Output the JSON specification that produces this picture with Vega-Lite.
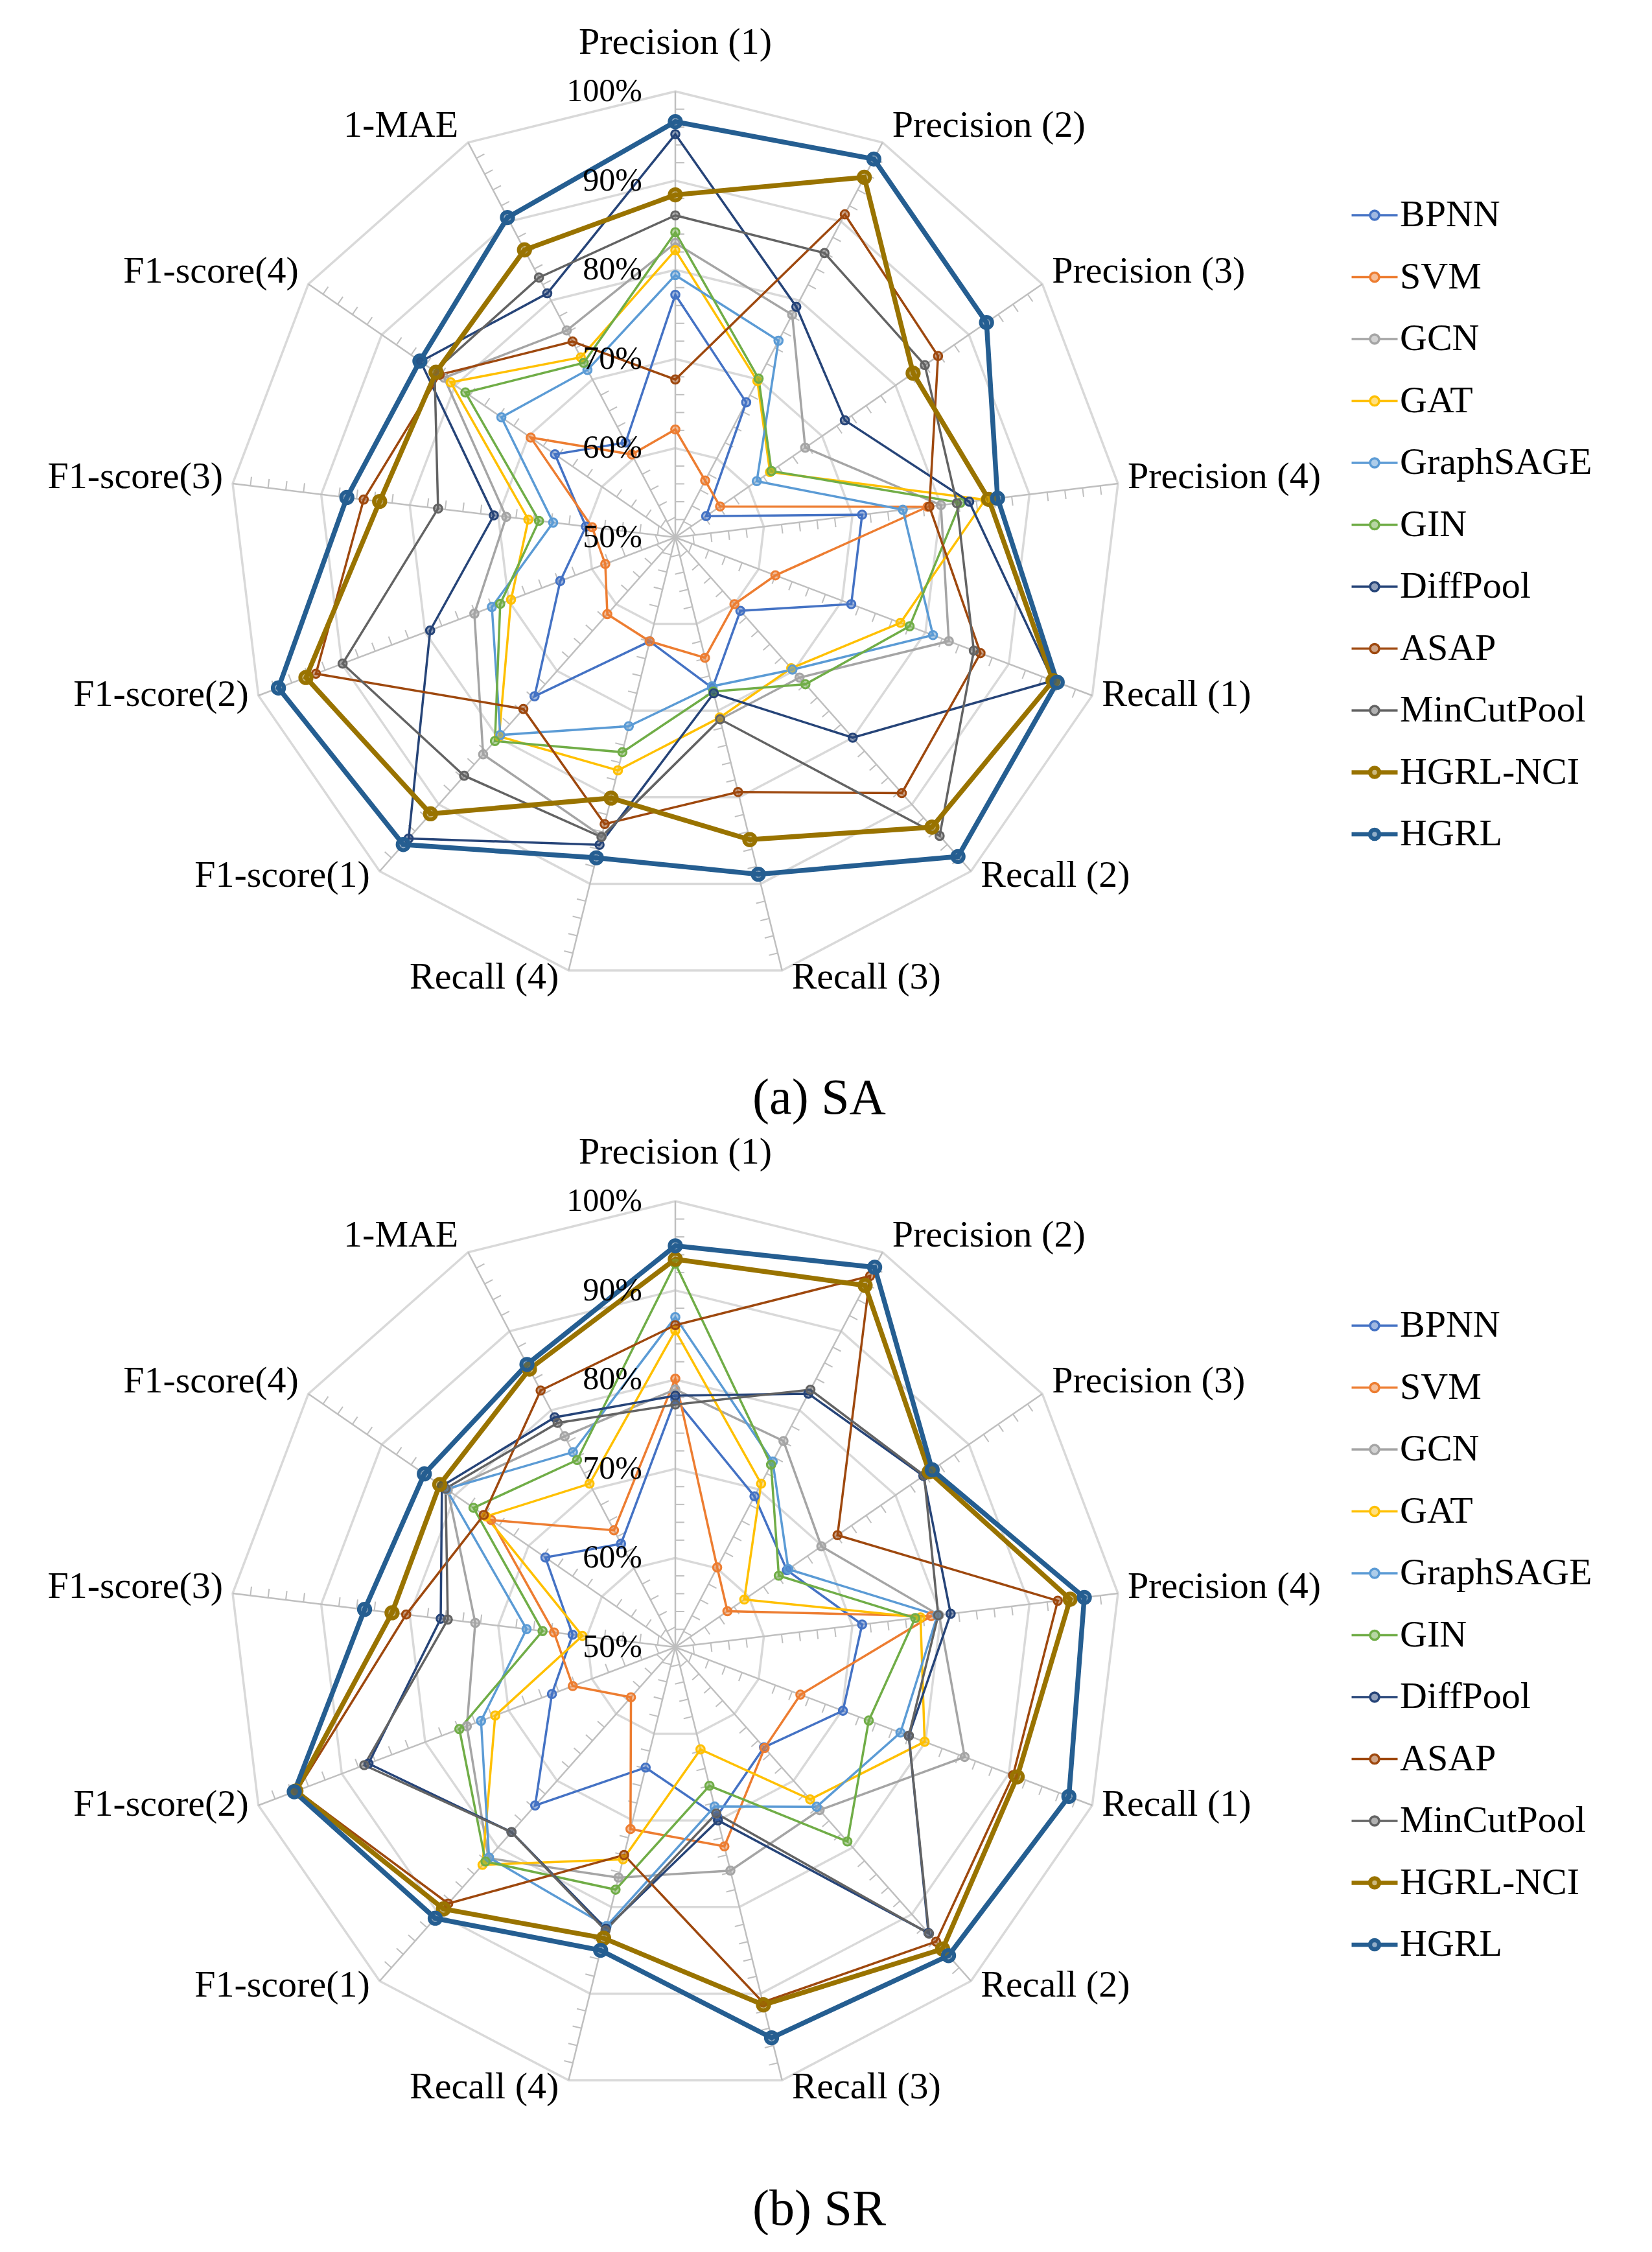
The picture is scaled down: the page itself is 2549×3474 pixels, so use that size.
{
  "$schema": "https://vega.github.io/schema/vega-lite/v6.json",
  "padding": 0,
  "spacing": 0,
  "background": "white",
  "config": {"view": {"stroke": null}, "font": "Liberation Serif"},
  "datasets": {
    "scores": [
      {"panel":"SA","model":"BPNN","P1":77.2,"P2":67.1,"P3":54.2,"P4":71.1,"R1":71.1,"R2":61.0,"R3":67.4,"R4":62.0,"F1":73.8,"F2":63.8,"F3":60.1,"F4":66.4,"MAE":62.0},
      {"panel":"SA","model":"SVM","P1":62.1,"P2":57.2,"P3":56.1,"P4":78.5,"R1":62.0,"R2":60.0,"R3":63.9,"R4":62.0,"F1":61.5,"F2":58.4,"F3":59.4,"F4":69.7,"MAE":60.5},
      {"panel":"SA","model":"GCN","P1":83.0,"P2":78.2,"P3":67.7,"P4":80.0,"R1":82.8,"R2":71.0,"R3":71.0,"R4":84.5,"F1":82.5,"F2":74.1,"F3":69.1,"F4":81.5,"MAE":76.2},
      {"panel":"SA","model":"GAT","P1":82.2,"P2":69.8,"P3":62.9,"P4":85.0,"R1":77.0,"R2":69.6,"R3":70.8,"R4":76.9,"F1":79.8,"F2":69.7,"F3":66.6,"F4":80.6,"MAE":72.8},
      {"panel":"SA","model":"GraphSAGE","P1":79.4,"P2":74.9,"P3":61.1,"P4":75.7,"R1":80.9,"R2":69.8,"R3":67.2,"R4":71.8,"F1":79.6,"F2":72.0,"F3":63.8,"F4":73.7,"MAE":71.2},
      {"panel":"SA","model":"GIN","P1":84.2,"P2":70.1,"P3":63.1,"P4":82.2,"R1":78.1,"R2":72.0,"R3":67.8,"R4":74.8,"F1":80.5,"F2":71.0,"F3":65.4,"F4":78.6,"MAE":72.1},
      {"panel":"SA","model":"DiffPool","P1":95.2,"P2":79.2,"P3":73.1,"P4":83.2,"R1":95.3,"R2":80.0,"R3":68.0,"R4":85.5,"F1":95.1,"F2":79.4,"F3":70.5,"F4":84.7,"MAE":80.9},
      {"panel":"SA","model":"ASAP","P1":67.7,"P2":90.9,"P3":85.8,"P4":78.7,"R1":86.6,"R2":88.3,"R3":79.4,"R4":83.1,"F1":75.7,"F2":93.1,"F3":85.2,"F4":82.1,"MAE":74.8},
      {"panel":"SA","model":"MinCutPool","P1":86.1,"P2":86.0,"P3":84.0,"P4":81.8,"R1":85.8,"R2":94.7,"R3":71.0,"R4":84.6,"F1":85.7,"F2":89.9,"F3":76.8,"F4":82.8,"MAE":82.9},
      {"panel":"SA","model":"HGRL-NCI","P1":88.4,"P2":95.6,"P3":82.4,"P4":85.4,"R1":95.3,"R2":93.4,"R3":84.9,"R4":80.1,"F1":91.4,"F2":94.3,"F3":83.4,"F4":82.6,"MAE":86.4},
      {"panel":"SA","model":"HGRL","P1":96.6,"P2":97.9,"P3":92.4,"P4":86.4,"R1":95.8,"R2":97.8,"R3":88.9,"R4":87.0,"F1":96.0,"F2":97.6,"F3":87.1,"F4":84.8,"MAE":90.5},
      {"panel":"SR","model":"BPNN","P1":77.8,"P2":69.1,"P3":65.2,"P4":71.1,"R1":70.1,"R2":65.0,"R3":69.5,"R4":63.9,"F1":73.7,"F2":64.8,"F3":61.6,"F4":67.7,"MAE":63.1},
      {"panel":"SR","model":"SVM","P1":80.1,"P2":60.1,"P3":57.1,"P4":78.9,"R1":65.0,"R2":65.1,"R3":73.0,"R4":71.0,"F1":57.5,"F2":62.3,"F3":63.7,"F4":75.1,"MAE":64.8},
      {"panel":"SR","model":"GCN","P1":78.9,"P2":76.1,"P3":69.9,"P4":79.8,"R1":84.7,"R2":74.4,"R3":75.8,"R4":76.6,"F1":81.6,"F2":75.0,"F3":72.6,"F4":81.0,"MAE":76.7},
      {"panel":"SR","model":"GAT","P1":85.5,"P2":70.7,"P3":59.4,"P4":77.7,"R1":79.9,"R2":72.8,"R3":61.8,"R4":74.5,"F1":82.6,"F2":71.6,"F3":60.5,"F4":75.8,"MAE":70.7},
      {"panel":"SR","model":"GraphSAGE","P1":87.0,"P2":73.5,"P3":65.4,"P4":79.6,"R1":77.0,"R2":73.9,"R3":68.4,"R4":82.2,"F1":81.5,"F2":73.3,"F3":66.8,"F4":81.2,"MAE":74.7},
      {"panel":"SR","model":"GIN","P1":93.0,"P2":73.1,"P3":64.1,"P4":77.1,"R1":73.2,"R2":79.1,"R3":66.0,"R4":78.0,"F1":82.1,"F2":75.9,"F3":65.0,"F4":77.5,"MAE":73.7},
      {"panel":"SR","model":"DiffPool","P1":78.2,"P2":82.1,"P3":83.8,"P4":81.1,"R1":78.0,"R2":92.8,"R3":70.0,"R4":82.5,"F1":77.7,"F2":86.8,"F3":76.5,"F4":81.8,"MAE":79.1},
      {"panel":"SR","model":"ASAP","P1":86.1,"P2":97.0,"P3":72.1,"P4":93.2,"R1":90.5,"R2":94.1,"R3":91.0,"R4":74.0,"F1":88.4,"F2":95.4,"F3":80.4,"F4":76.1,"MAE":82.5},
      {"panel":"SR","model":"MinCutPool","P1":77.2,"P2":82.6,"P3":83.9,"P4":79.7,"R1":78.0,"R2":92.9,"R3":69.2,"R4":82.7,"F1":77.7,"F2":87.3,"F3":75.7,"F4":81.3,"MAE":78.4},
      {"panel":"SR","model":"HGRL-NCI","P1":93.5,"P2":95.8,"P3":84.6,"P4":94.6,"R1":91.0,"R2":95.2,"R3":91.3,"R4":83.6,"F1":89.2,"F2":95.5,"F3":82.0,"F4":82.1,"MAE":85.2},
      {"panel":"SR","model":"HGRL","P1":95.0,"P2":98.1,"P3":85.0,"P4":96.2,"R1":97.2,"R2":96.2,"R3":95.1,"R4":85.0,"F1":90.6,"F2":95.7,"F3":85.1,"F4":84.2,"MAE":85.8}
    ],
    "axes": [
      {"metric":"P1","label":"Precision (1)"},
      {"metric":"P2","label":"Precision (2)"},
      {"metric":"P3","label":"Precision (3)"},
      {"metric":"P4","label":"Precision (4)"},
      {"metric":"R1","label":"Recall (1)"},
      {"metric":"R2","label":"Recall (2)"},
      {"metric":"R3","label":"Recall (3)"},
      {"metric":"R4","label":"Recall (4)"},
      {"metric":"F1","label":"F1-score(1)"},
      {"metric":"F2","label":"F1-score(2)"},
      {"metric":"F3","label":"F1-score(3)"},
      {"metric":"F4","label":"F1-score(4)"},
      {"metric":"MAE","label":"1-MAE"}
    ],
    "rings": [
      {"level":60,"metric":["P1","P2","P3","P4","R1","R2","R3","R4","F1","F2","F3","F4","MAE"]},
      {"level":70,"metric":["P1","P2","P3","P4","R1","R2","R3","R4","F1","F2","F3","F4","MAE"]},
      {"level":80,"metric":["P1","P2","P3","P4","R1","R2","R3","R4","F1","F2","F3","F4","MAE"]},
      {"level":90,"metric":["P1","P2","P3","P4","R1","R2","R3","R4","F1","F2","F3","F4","MAE"]},
      {"level":100,"metric":["P1","P2","P3","P4","R1","R2","R3","R4","F1","F2","F3","F4","MAE"]}
    ],
    "ticks": [
      {"metric":"P1","t":[52,54,56,58,62,64,66,68,72,74,76,78,82,84,86,88,92,94,96,98]},
      {"metric":"P2","t":[52,54,56,58,62,64,66,68,72,74,76,78,82,84,86,88,92,94,96,98]},
      {"metric":"P3","t":[52,54,56,58,62,64,66,68,72,74,76,78,82,84,86,88,92,94,96,98]},
      {"metric":"P4","t":[52,54,56,58,62,64,66,68,72,74,76,78,82,84,86,88,92,94,96,98]},
      {"metric":"R1","t":[52,54,56,58,62,64,66,68,72,74,76,78,82,84,86,88,92,94,96,98]},
      {"metric":"R2","t":[52,54,56,58,62,64,66,68,72,74,76,78,82,84,86,88,92,94,96,98]},
      {"metric":"R3","t":[52,54,56,58,62,64,66,68,72,74,76,78,82,84,86,88,92,94,96,98]},
      {"metric":"R4","t":[52,54,56,58,62,64,66,68,72,74,76,78,82,84,86,88,92,94,96,98]},
      {"metric":"F1","t":[52,54,56,58,62,64,66,68,72,74,76,78,82,84,86,88,92,94,96,98]},
      {"metric":"F2","t":[52,54,56,58,62,64,66,68,72,74,76,78,82,84,86,88,92,94,96,98]},
      {"metric":"F3","t":[52,54,56,58,62,64,66,68,72,74,76,78,82,84,86,88,92,94,96,98]},
      {"metric":"F4","t":[52,54,56,58,62,64,66,68,72,74,76,78,82,84,86,88,92,94,96,98]},
      {"metric":"MAE","t":[52,54,56,58,62,64,66,68,72,74,76,78,82,84,86,88,92,94,96,98]}
    ],
    "levels": [
      {"level":50,"label":"50%"},
      {"level":60,"label":"60%"},
      {"level":70,"label":"70%"},
      {"level":80,"label":"80%"},
      {"level":90,"label":"90%"},
      {"level":100,"label":"100%"}
    ]
  },
  "resolve": {"scale": {"x": "independent", "y": "independent", "color": "shared", "fill": "shared"}, "legend": {"color": "independent"}},
  "vconcat": [
    {
      "width": 2000,
      "height": 1560,
      "title": {"text": "(a) SA", "orient": "bottom", "anchor": "middle", "dx": 264, "offset": 96, "fontSize": 78, "fontWeight": "normal", "font": "Liberation Serif", "color": "black", "baseline": "top"},
      "layer": [
        {
          "data": {"name": "rings"},
          "transform": [
            {"flatten": ["metric"]},
            {"calculate": "indexof(['P1','P2','P3','P4','R1','R2','R3','R4','F1','F2','F3','F4','MAE'], datum.metric) * 2 * PI / 13", "as": "ang"},
            {"calculate": "(datum.level - 50) / 50 * sin(datum.ang)", "as": "gx"},
            {"calculate": "(datum.level - 50) / 50 * cos(datum.ang)", "as": "gy"}
          ],
          "mark": {"type": "line", "interpolate": "linear-closed", "stroke": "#D9D9D9", "strokeWidth": 3.5},
          "encoding": {
            "x": {"field": "gx", "type": "quantitative", "scale": {"domain": [-1.51453, 1.39244], "nice": false, "zero": false}, "axis": null},
            "y": {"field": "gy", "type": "quantitative", "scale": {"domain": [-1.0625, 1.20494], "nice": false, "zero": false}, "axis": null},
            "detail": {"field": "level", "type": "nominal"},
            "order": {"field": "ang", "type": "quantitative"}
          }
        },
        {
          "data": {"name": "axes"},
          "transform": [
            {"calculate": "indexof(['P1','P2','P3','P4','R1','R2','R3','R4','F1','F2','F3','F4','MAE'], datum.metric) * 2 * PI / 13", "as": "ang"},
            {"calculate": "sin(datum.ang)", "as": "s"},
            {"calculate": "cos(datum.ang)", "as": "c"},
            {"calculate": "0", "as": "o"}
          ],
          "mark": {"type": "rule", "stroke": "#BFBFBF", "strokeWidth": 2.5},
          "encoding": {
            "x": {"field": "o", "type": "quantitative", "scale": {"domain": [-1.51453, 1.39244], "nice": false, "zero": false}, "axis": null},
            "y": {"field": "o", "type": "quantitative", "scale": {"domain": [-1.0625, 1.20494], "nice": false, "zero": false}, "axis": null},
            "x2": {"field": "s"},
            "y2": {"field": "c"}
          }
        },
        {
          "data": {"name": "ticks"},
          "transform": [
            {"flatten": ["t"]},
            {"calculate": "indexof(['P1','P2','P3','P4','R1','R2','R3','R4','F1','F2','F3','F4','MAE'], datum.metric) * 2 * PI / 13", "as": "ang"},
            {"calculate": "(datum.t - 50) / 50 * sin(datum.ang)", "as": "tx"},
            {"calculate": "(datum.t - 50) / 50 * cos(datum.ang)", "as": "ty"},
            {"calculate": "datum.tx + 0.0203 * cos(datum.ang)", "as": "tx2"},
            {"calculate": "datum.ty - 0.0203 * sin(datum.ang)", "as": "ty2"}
          ],
          "mark": {"type": "rule", "stroke": "#BFBFBF", "strokeWidth": 2},
          "encoding": {
            "x": {"field": "tx", "type": "quantitative", "scale": {"domain": [-1.51453, 1.39244], "nice": false, "zero": false}, "axis": null},
            "y": {"field": "ty", "type": "quantitative", "scale": {"domain": [-1.0625, 1.20494], "nice": false, "zero": false}, "axis": null},
            "x2": {"field": "tx2"},
            "y2": {"field": "ty2"}
          }
        },
        {
          "data": {"name": "scores"},
          "transform": [
            {"filter": "datum.panel === 'SA'"},
            {"fold": ["P1","P2","P3","P4","R1","R2","R3","R4","F1","F2","F3","F4","MAE"], "as": ["metric", "value"]},
            {"calculate": "indexof(['P1','P2','P3','P4','R1','R2','R3','R4','F1','F2','F3','F4','MAE'], datum.metric) * 2 * PI / 13", "as": "ang"},
            {"calculate": "(datum.value - 50) / 50 * sin(datum.ang)", "as": "px"},
            {"calculate": "(datum.value - 50) / 50 * cos(datum.ang)", "as": "py"}
          ],
          "encoding": {
            "x": {"field": "px", "type": "quantitative", "scale": {"domain": [-1.51453, 1.39244], "nice": false, "zero": false}, "axis": null},
            "y": {"field": "py", "type": "quantitative", "scale": {"domain": [-1.0625, 1.20494], "nice": false, "zero": false}, "axis": null},
            "color": {
              "field": "model", "type": "nominal",
              "scale": {"domain": ["BPNN","SVM","GCN","GAT","GraphSAGE","GIN","DiffPool","ASAP","MinCutPool","HGRL-NCI","HGRL"], "range": ["#4472C4","#ED7D31","#A5A5A5","#FFC000","#5B9BD5","#70AD47","#264478","#9E480E","#636363","#997300","#255E91"]},
              "legend": {
                "title": null, "orient": "none", "legendX": 2092, "legendY": 303, "padding": 0,
                "symbolType": "M-1,0L-0.2,0M0.2,0L1,0M0.197,0A0.197,0.197,0,1,1,-0.197,0A0.197,0.197,0,1,1,0.197,0",
                "symbolSize": 5041, "symbolStrokeWidth": 3.5,
                "labelFont": "Liberation Serif", "labelFontSize": 58, "labelColor": "black", "labelOffset": 10, "labelLimit": 800,
                "rowPadding": 37.5,
                "encode": {"symbols": {"update": {"fill": {"scale": "color", "field": "value"}, "fillOpacity": {"value": 0.5}, "strokeWidth": {"signal": "datum.value === 'HGRL' || datum.value === 'HGRL-NCI' ? 6.5 : 3.5"}}}}
              }
            },
            "order": {"field": "ang", "type": "quantitative"}
          },
          "layer": [
            {
              "mark": {"type": "line", "interpolate": "linear-closed"},
              "encoding": {"strokeWidth": {"condition": {"test": "datum.model === 'HGRL' || datum.model === 'HGRL-NCI'", "value": 7.5}, "value": 3.5}}
            },
            {
              "mark": {"type": "point", "filled": false, "opacity": 1, "fillOpacity": 0.5},
              "encoding": {
                "fill": {"field": "model", "type": "nominal", "scale": {"domain": ["BPNN","SVM","GCN","GAT","GraphSAGE","GIN","DiffPool","ASAP","MinCutPool","HGRL-NCI","HGRL"], "range": ["#4472C4","#ED7D31","#A5A5A5","#FFC000","#5B9BD5","#70AD47","#264478","#9E480E","#636363","#997300","#255E91"]}, "legend": null},
                "size": {"condition": {"test": "datum.model === 'HGRL' || datum.model === 'HGRL-NCI'", "value": 300}, "value": 160},
                "strokeWidth": {"condition": {"test": "datum.model === 'HGRL' || datum.model === 'HGRL-NCI'", "value": 6}, "value": 3}
              }
            }
          ]
        },
        {
          "data": {"name": "levels"},
          "transform": [{"calculate": "(datum.level - 50) / 50", "as": "ly"}, {"calculate": "0", "as": "o"}],
          "mark": {"type": "text", "align": "right", "baseline": "middle", "dx": -51, "fontSize": 50, "font": "Liberation Serif", "color": "black"},
          "encoding": {
            "x": {"field": "o", "type": "quantitative", "scale": {"domain": [-1.51453, 1.39244], "nice": false, "zero": false}, "axis": null},
            "y": {"field": "ly", "type": "quantitative", "scale": {"domain": [-1.0625, 1.20494], "nice": false, "zero": false}, "axis": null},
            "text": {"field": "label"}
          }
        },
        {
          "data": {"name": "axes"},
          "transform": [
            {"calculate": "indexof(['P1','P2','P3','P4','R1','R2','R3','R4','F1','F2','F3','F4','MAE'], datum.metric) * 2 * PI / 13", "as": "ang"},
            {"calculate": "sin(datum.ang)", "as": "s"},
            {"calculate": "cos(datum.ang)", "as": "c"},
            {"calculate": "datum.s > 0.01 ? datum.s + 0.0218 : (datum.s < -0.01 ? datum.s - 0.0218 : 0)", "as": "lx"},
            {"calculate": "datum.s > 0.01 || datum.s < -0.01 ? datum.c + (8 + 20 * datum.c) / 688 : 1 + 75 / 688", "as": "ly"}
          ],
          "encoding": {
            "x": {"field": "lx", "type": "quantitative", "scale": {"domain": [-1.51453, 1.39244], "nice": false, "zero": false}, "axis": null},
            "y": {"field": "ly", "type": "quantitative", "scale": {"domain": [-1.0625, 1.20494], "nice": false, "zero": false}, "axis": null},
            "text": {"field": "label"}
          },
          "layer": [
            {"transform": [{"filter": "datum.s > 0.01"}], "mark": {"type": "text", "align": "left", "baseline": "middle", "fontSize": 58, "font": "Liberation Serif", "color": "black"}},
            {"transform": [{"filter": "datum.s < -0.01"}], "mark": {"type": "text", "align": "right", "baseline": "middle", "fontSize": 58, "font": "Liberation Serif", "color": "black"}},
            {"transform": [{"filter": "datum.s >= -0.01 && datum.s <= 0.01"}], "mark": {"type": "text", "align": "center", "baseline": "middle", "fontSize": 58, "font": "Liberation Serif", "color": "black"}}
          ]
        }
      ]
    },
    {
      "width": 2000,
      "height": 1540,
      "title": {"text": "(b) SR", "orient": "bottom", "anchor": "middle", "dx": 264, "offset": 96, "fontSize": 78, "fontWeight": "normal", "font": "Liberation Serif", "color": "black", "baseline": "top"},
      "layer": [
        {
          "data": {"name": "rings"},
          "transform": [
            {"flatten": ["metric"]},
            {"calculate": "indexof(['P1','P2','P3','P4','R1','R2','R3','R4','F1','F2','F3','F4','MAE'], datum.metric) * 2 * PI / 13", "as": "ang"},
            {"calculate": "(datum.level - 50) / 50 * sin(datum.ang)", "as": "gx"},
            {"calculate": "(datum.level - 50) / 50 * cos(datum.ang)", "as": "gy"}
          ],
          "mark": {"type": "line", "interpolate": "linear-closed", "stroke": "#D9D9D9", "strokeWidth": 3.5},
          "encoding": {
            "x": {"field": "gx", "type": "quantitative", "scale": {"domain": [-1.51453, 1.39244], "nice": false, "zero": false}, "axis": null},
            "y": {"field": "gy", "type": "quantitative", "scale": {"domain": [-1.06541, 1.17297], "nice": false, "zero": false}, "axis": null},
            "detail": {"field": "level", "type": "nominal"},
            "order": {"field": "ang", "type": "quantitative"}
          }
        },
        {
          "data": {"name": "axes"},
          "transform": [
            {"calculate": "indexof(['P1','P2','P3','P4','R1','R2','R3','R4','F1','F2','F3','F4','MAE'], datum.metric) * 2 * PI / 13", "as": "ang"},
            {"calculate": "sin(datum.ang)", "as": "s"},
            {"calculate": "cos(datum.ang)", "as": "c"},
            {"calculate": "0", "as": "o"}
          ],
          "mark": {"type": "rule", "stroke": "#BFBFBF", "strokeWidth": 2.5},
          "encoding": {
            "x": {"field": "o", "type": "quantitative", "scale": {"domain": [-1.51453, 1.39244], "nice": false, "zero": false}, "axis": null},
            "y": {"field": "o", "type": "quantitative", "scale": {"domain": [-1.06541, 1.17297], "nice": false, "zero": false}, "axis": null},
            "x2": {"field": "s"},
            "y2": {"field": "c"}
          }
        },
        {
          "data": {"name": "ticks"},
          "transform": [
            {"flatten": ["t"]},
            {"calculate": "indexof(['P1','P2','P3','P4','R1','R2','R3','R4','F1','F2','F3','F4','MAE'], datum.metric) * 2 * PI / 13", "as": "ang"},
            {"calculate": "(datum.t - 50) / 50 * sin(datum.ang)", "as": "tx"},
            {"calculate": "(datum.t - 50) / 50 * cos(datum.ang)", "as": "ty"},
            {"calculate": "datum.tx + 0.0203 * cos(datum.ang)", "as": "tx2"},
            {"calculate": "datum.ty - 0.0203 * sin(datum.ang)", "as": "ty2"}
          ],
          "mark": {"type": "rule", "stroke": "#BFBFBF", "strokeWidth": 2},
          "encoding": {
            "x": {"field": "tx", "type": "quantitative", "scale": {"domain": [-1.51453, 1.39244], "nice": false, "zero": false}, "axis": null},
            "y": {"field": "ty", "type": "quantitative", "scale": {"domain": [-1.06541, 1.17297], "nice": false, "zero": false}, "axis": null},
            "x2": {"field": "tx2"},
            "y2": {"field": "ty2"}
          }
        },
        {
          "data": {"name": "scores"},
          "transform": [
            {"filter": "datum.panel === 'SR'"},
            {"fold": ["P1","P2","P3","P4","R1","R2","R3","R4","F1","F2","F3","F4","MAE"], "as": ["metric", "value"]},
            {"calculate": "indexof(['P1','P2','P3','P4','R1','R2','R3','R4','F1','F2','F3','F4','MAE'], datum.metric) * 2 * PI / 13", "as": "ang"},
            {"calculate": "(datum.value - 50) / 50 * sin(datum.ang)", "as": "px"},
            {"calculate": "(datum.value - 50) / 50 * cos(datum.ang)", "as": "py"}
          ],
          "encoding": {
            "x": {"field": "px", "type": "quantitative", "scale": {"domain": [-1.51453, 1.39244], "nice": false, "zero": false}, "axis": null},
            "y": {"field": "py", "type": "quantitative", "scale": {"domain": [-1.06541, 1.17297], "nice": false, "zero": false}, "axis": null},
            "color": {
              "field": "model", "type": "nominal",
              "scale": {"domain": ["BPNN","SVM","GCN","GAT","GraphSAGE","GIN","DiffPool","ASAP","MinCutPool","HGRL-NCI","HGRL"], "range": ["#4472C4","#ED7D31","#A5A5A5","#FFC000","#5B9BD5","#70AD47","#264478","#9E480E","#636363","#997300","#255E91"]},
              "legend": {
                "title": null, "orient": "none", "legendX": 2092, "legendY": 282, "padding": 0,
                "symbolType": "M-1,0L-0.2,0M0.2,0L1,0M0.197,0A0.197,0.197,0,1,1,-0.197,0A0.197,0.197,0,1,1,0.197,0",
                "symbolSize": 5041, "symbolStrokeWidth": 3.5,
                "labelFont": "Liberation Serif", "labelFontSize": 58, "labelColor": "black", "labelOffset": 10, "labelLimit": 800,
                "rowPadding": 37.5,
                "encode": {"symbols": {"update": {"fill": {"scale": "color", "field": "value"}, "fillOpacity": {"value": 0.5}, "strokeWidth": {"signal": "datum.value === 'HGRL' || datum.value === 'HGRL-NCI' ? 6.5 : 3.5"}}}}
              }
            },
            "order": {"field": "ang", "type": "quantitative"}
          },
          "layer": [
            {
              "mark": {"type": "line", "interpolate": "linear-closed"},
              "encoding": {"strokeWidth": {"condition": {"test": "datum.model === 'HGRL' || datum.model === 'HGRL-NCI'", "value": 7.5}, "value": 3.5}}
            },
            {
              "mark": {"type": "point", "filled": false, "opacity": 1, "fillOpacity": 0.5},
              "encoding": {
                "fill": {"field": "model", "type": "nominal", "scale": {"domain": ["BPNN","SVM","GCN","GAT","GraphSAGE","GIN","DiffPool","ASAP","MinCutPool","HGRL-NCI","HGRL"], "range": ["#4472C4","#ED7D31","#A5A5A5","#FFC000","#5B9BD5","#70AD47","#264478","#9E480E","#636363","#997300","#255E91"]}, "legend": null},
                "size": {"condition": {"test": "datum.model === 'HGRL' || datum.model === 'HGRL-NCI'", "value": 300}, "value": 160},
                "strokeWidth": {"condition": {"test": "datum.model === 'HGRL' || datum.model === 'HGRL-NCI'", "value": 6}, "value": 3}
              }
            }
          ]
        },
        {
          "data": {"name": "levels"},
          "transform": [{"calculate": "(datum.level - 50) / 50", "as": "ly"}, {"calculate": "0", "as": "o"}],
          "mark": {"type": "text", "align": "right", "baseline": "middle", "dx": -51, "fontSize": 50, "font": "Liberation Serif", "color": "black"},
          "encoding": {
            "x": {"field": "o", "type": "quantitative", "scale": {"domain": [-1.51453, 1.39244], "nice": false, "zero": false}, "axis": null},
            "y": {"field": "ly", "type": "quantitative", "scale": {"domain": [-1.06541, 1.17297], "nice": false, "zero": false}, "axis": null},
            "text": {"field": "label"}
          }
        },
        {
          "data": {"name": "axes"},
          "transform": [
            {"calculate": "indexof(['P1','P2','P3','P4','R1','R2','R3','R4','F1','F2','F3','F4','MAE'], datum.metric) * 2 * PI / 13", "as": "ang"},
            {"calculate": "sin(datum.ang)", "as": "s"},
            {"calculate": "cos(datum.ang)", "as": "c"},
            {"calculate": "datum.s > 0.01 ? datum.s + 0.0218 : (datum.s < -0.01 ? datum.s - 0.0218 : 0)", "as": "lx"},
            {"calculate": "datum.s > 0.01 || datum.s < -0.01 ? datum.c + (8 + 20 * datum.c) / 688 : 1 + 75 / 688", "as": "ly"}
          ],
          "encoding": {
            "x": {"field": "lx", "type": "quantitative", "scale": {"domain": [-1.51453, 1.39244], "nice": false, "zero": false}, "axis": null},
            "y": {"field": "ly", "type": "quantitative", "scale": {"domain": [-1.06541, 1.17297], "nice": false, "zero": false}, "axis": null},
            "text": {"field": "label"}
          },
          "layer": [
            {"transform": [{"filter": "datum.s > 0.01"}], "mark": {"type": "text", "align": "left", "baseline": "middle", "fontSize": 58, "font": "Liberation Serif", "color": "black"}},
            {"transform": [{"filter": "datum.s < -0.01"}], "mark": {"type": "text", "align": "right", "baseline": "middle", "fontSize": 58, "font": "Liberation Serif", "color": "black"}},
            {"transform": [{"filter": "datum.s >= -0.01 && datum.s <= 0.01"}], "mark": {"type": "text", "align": "center", "baseline": "middle", "fontSize": 58, "font": "Liberation Serif", "color": "black"}}
          ]
        }
      ]
    }
  ]
}
